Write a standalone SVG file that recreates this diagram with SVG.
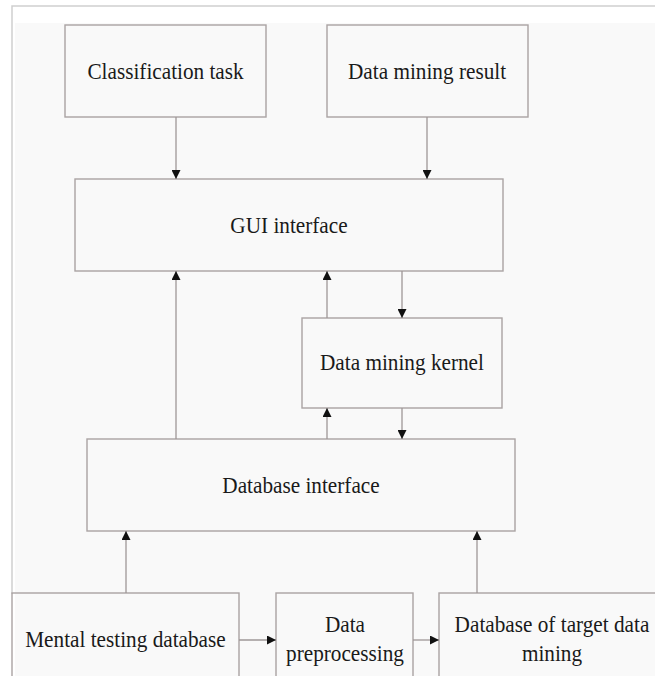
<svg xmlns="http://www.w3.org/2000/svg" width="655" height="676" viewBox="0 0 655 676">
<defs>
<marker id="ah" viewBox="0 0 10 10" refX="10" refY="5" markerWidth="12" markerHeight="9" markerUnits="userSpaceOnUse" orient="auto">
<path d="M0,0 L10,5 L0,10 Z" fill="#111"/>
</marker>
</defs>
<style>
.box{fill:none;stroke:#aaa3a3;stroke-width:1.4}
.lbl{font-family:"Liberation Serif","Times New Roman",serif;font-size:24px;fill:#1a1a1a;text-anchor:middle;transform-box:fill-box;transform-origin:center;transform:scaleX(0.885)}
.con{fill:none;stroke:#9e9797;stroke-width:1.3;marker-end:url(#ah)}
.frame{fill:none;stroke:#cfcfcf;stroke-width:1.5}
</style>
<rect x="0" y="0" width="655" height="676" fill="#ffffff"/>
<rect x="15" y="23" width="640" height="653" fill="#f9f9f9"/>
<path class="frame" d="M655,6 H12 V594"/>
<g id="classification">
<rect class="box" x="65" y="25" width="201" height="92"/>
<text class="lbl" x="165.5" y="79">Classification task</text>
</g>
<g id="result">
<rect class="box" x="327" y="25" width="201" height="92"/>
<text class="lbl" x="427" y="79">Data mining result</text>
</g>
<g id="gui">
<rect class="box" x="75" y="179" width="428" height="92"/>
<text class="lbl" x="289" y="233">GUI interface</text>
</g>
<g id="kernel">
<rect class="box" x="302" y="318" width="200" height="90"/>
<text class="lbl" x="402" y="370">Data mining kernel</text>
</g>
<g id="dbif">
<rect class="box" x="87" y="439" width="428" height="92"/>
<text class="lbl" x="301" y="493">Database interface</text>
</g>
<g id="mental">
<rect class="box" x="12" y="593" width="227" height="100"/>
<text class="lbl" x="125.5" y="647">Mental testing database</text>
</g>
<g id="preproc">
<rect class="box" x="276" y="593" width="137" height="100"/>
<text class="lbl" x="345" y="632">Data</text>
<text class="lbl" x="345" y="661">preprocessing</text>
</g>
<g id="target">
<rect class="box" x="439" y="593" width="240" height="100"/>
<text class="lbl" x="552" y="632">Database of target data</text>
<text class="lbl" x="552" y="661">mining</text>
</g>
<g id="connectors">
<line class="con" x1="176" y1="117" x2="176" y2="179"/>
<line class="con" x1="427" y1="117" x2="427" y2="179"/>
<line class="con" x1="176" y1="439" x2="176" y2="271"/>
<line class="con" x1="327" y1="318" x2="327" y2="271"/>
<line class="con" x1="402" y1="271" x2="402" y2="318"/>
<line class="con" x1="327" y1="439" x2="327" y2="408"/>
<line class="con" x1="402" y1="408" x2="402" y2="439"/>
<line class="con" x1="126" y1="593" x2="126" y2="531"/>
<line class="con" x1="477" y1="593" x2="477" y2="531"/>
<line class="con" x1="239" y1="640" x2="276" y2="640"/>
<line class="con" x1="413" y1="640" x2="439" y2="640"/>
</g>
</svg>
